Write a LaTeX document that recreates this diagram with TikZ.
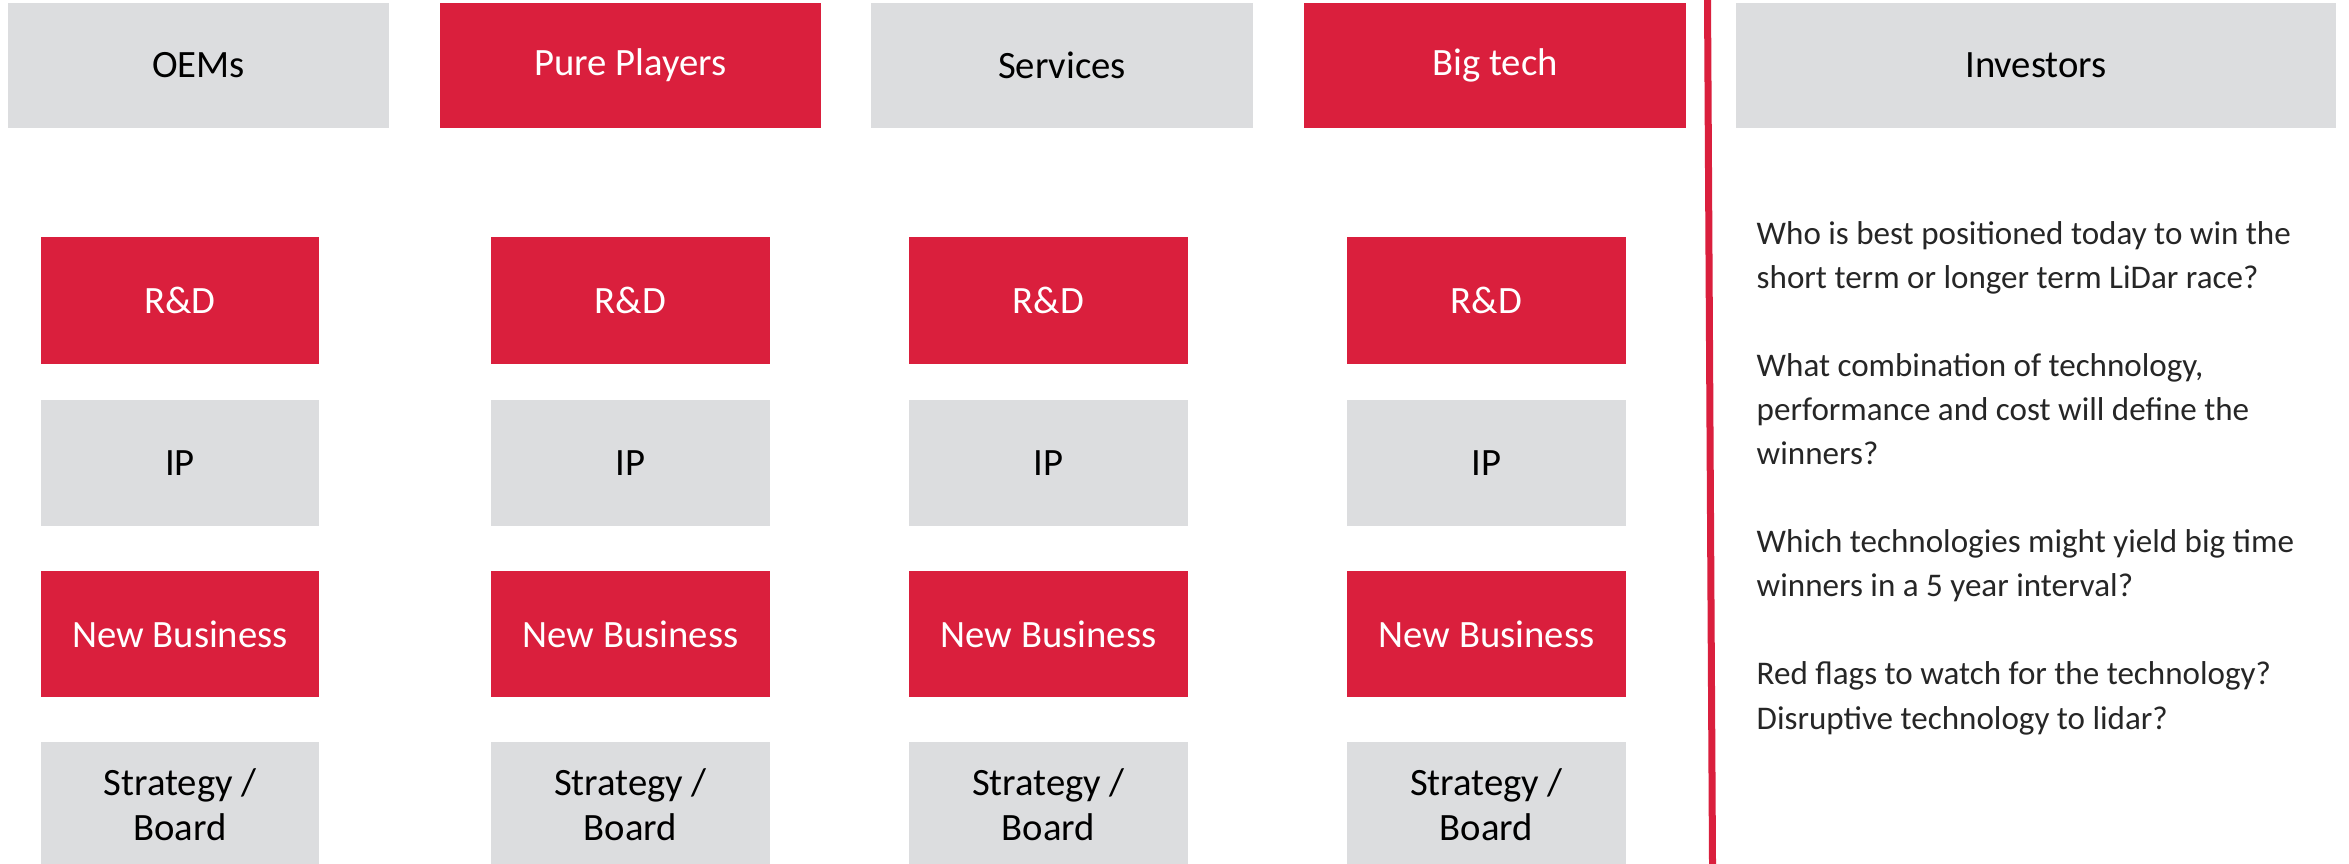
\documentclass[tikz,border=0pt]{standalone}
\usepackage{fontspec}
\setmainfont{Carlito}
\definecolor{Crimson}{HTML}{DA1F3D}
\definecolor{Silver}{HTML}{DCDDDF}
\definecolor{Ink}{HTML}{262626}

\begin{document}
\begin{tikzpicture}[x=0.01cm,y=-0.01cm]
	\tikzstyle{Box} = [inner sep=0pt, align=center, font=\fontsize{11}{12.8}\selectfont]
	\tikzstyle{Grey} = [Box, fill=Silver, text=black]
	\tikzstyle{Red} = [Box, fill=Crimson, text=white]
	\tikzstyle{Head} = [minimum width=3.81cm, minimum height=1.25cm]
	\tikzstyle{Cell} = [minimum width=2.78cm, minimum height=1.26cm]
	\useasboundingbox (0,0) rectangle (2349,864);
	\node[Grey,Head] (oems) at (198.5,65.5) {OEMs};
	\node[Red,Head] (pure) at (630.5,65.5) {Pure Players};
	\node[Grey,Head] (services) at (1062,65.5) {Services};
	\node[Red,Head] (bigtech) at (1495,65.5) {Big tech};
	\node[Grey,Head,minimum width=6cm] (investors) at (2036,65.5) {Investors};
	\node[Red,Cell] (rd1) at (180,300.5) {R\&D};
	\node[Red,Cell] (rd2) at (630.5,300.5) {R\&D};
	\node[Red,Cell] (rd3) at (1048.5,300.5) {R\&D};
	\node[Red,Cell] (rd4) at (1486.5,300.5) {R\&D};
	\node[Grey,Cell] (ip1) at (180,463) {IP};
	\node[Grey,Cell] (ip2) at (630.5,463) {IP};
	\node[Grey,Cell] (ip3) at (1048.5,463) {IP};
	\node[Grey,Cell] (ip4) at (1486.5,463) {IP};
	\node[Red,Cell] (nb1) at (180,634) {New Business};
	\node[Red,Cell] (nb2) at (630.5,634) {New Business};
	\node[Red,Cell] (nb3) at (1048.5,634) {New Business};
	\node[Red,Cell] (nb4) at (1486.5,634) {New Business};
	\node[Grey,Cell] (sb1) at (180,805) {Strategy /\\Board};
	\node[Grey,Cell] (sb2) at (630.5,805) {Strategy /\\Board};
	\node[Grey,Cell] (sb3) at (1048.5,805) {Strategy /\\Board};
	\node[Grey,Cell] (sb4) at (1486.5,805) {Strategy /\\Board};
	\coordinate (divtop) at (1707.5,0);
	\coordinate (divbot) at (1712.5,864);
	\draw[Crimson, line width=0.07cm] (divtop)--(divbot);
	\node[anchor=base west, inner sep=0pt, align=left, text=Ink, font=\fontsize{9.4}{12.52}\selectfont] (questions) at (1756,729)
	{Who is best positioned today to win the\\
	short term or longer term LiDar race?\\[12.52pt]
	What combination of technology,\\
	performance and cost will define the\\
	winners?\\[12.52pt]
	Which technologies might yield big time\\
	winners in a 5 year interval?\\[12.52pt]
	Red flags to watch for the technology?\\
	Disruptive technology to lidar?};
\end{tikzpicture}
\end{document}
